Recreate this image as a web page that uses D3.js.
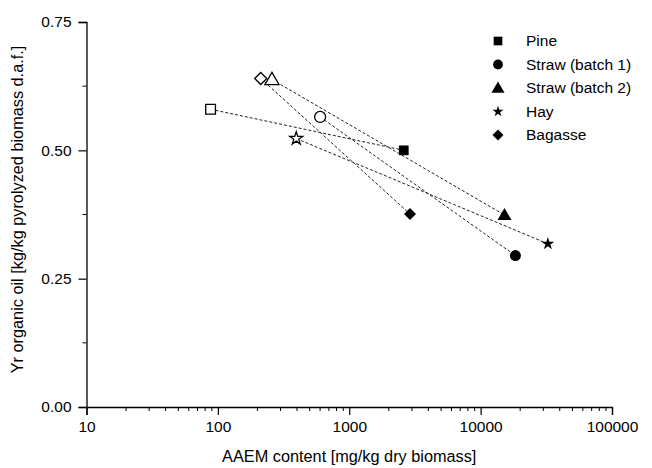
<!DOCTYPE html>
<html>
<head>
<meta charset="utf-8">
<script src="https://cdn.jsdelivr.net/npm/d3@7"></script>
<style>
  body { margin: 0; background: #fff; }
  text { font-family: "Liberation Sans", Arial, sans-serif; fill: #000; }
</style>
</head>
<body>
<div id="chart"></div>
<script>
// data: open marker = first point, filled = second
const seriesNames = ["Pine", "Straw (batch 1)", "Straw (batch 2)", "Hay", "Bagasse"];
const seriesShapes = ["square", "circle", "triangle", "star", "diamond"];
const openAAEM = [88, 600, 258, 395, 212];
const openYield = [0.58, 0.565, 0.638, 0.523, 0.64];
const filledAAEM = [2600, 18400, 15200, 32500, 2900];
const filledYield = [0.50, 0.295, 0.374, 0.318, 0.376];

const xTicks = [10, 100, 1000, 10000, 100000];
const yTicks = [0, 0.25, 0.5, 0.75];

const width = 652, height = 468;
const margin = { top: 22, right: 40, bottom: 61, left: 86.5 };

const svg = d3.select("#chart").append("svg")
    .attr("width", width)
    .attr("height", height);

const x = d3.scaleLog()
    .domain([10, 100000])
    .range([margin.left, width - margin.right]);

const y = d3.scaleLinear()
    .domain([0, 0.75])
    .range([height - margin.bottom, margin.top]);

// minor ticks
let xMinor = [];
for (let d = 10; d < 100000; d *= 10) {
    for (let k = 2; k <= 9; k++) xMinor.push(d * k);
}
let yMinor = [0.125, 0.375, 0.625];

// AXES
const xAxis = svg.append("g")
    .attr("transform", `translate(0,${height - margin.bottom})`)
    .call(d3.axisBottom(x).tickValues(xTicks).tickFormat(d3.format("d")).tickSizeOuter(0).tickSize(8).tickPadding(6));
xAxis.append("g").selectAll("line")
    .data(xMinor).enter().append("line")
    .attr("x1", d => x(d)).attr("x2", d => x(d))
    .attr("y1", 0).attr("y2", 4)
    .attr("stroke", "#000");

const yAxis = svg.append("g")
    .attr("transform", `translate(${margin.left},0)`)
    .call(d3.axisLeft(y).tickValues(yTicks).tickFormat(d3.format(".2f")).tickSizeOuter(0).tickSize(8).tickPadding(7));
yAxis.append("g").selectAll("line")
    .data(yMinor).enter().append("line")
    .attr("y1", d => y(d)).attr("y2", d => y(d))
    .attr("x1", 0).attr("x2", -4)
    .attr("stroke", "#000");

svg.selectAll(".domain").attr("stroke", "#000").attr("stroke-width", 1.3);
svg.selectAll(".tick line").attr("stroke", "#000").attr("stroke-width", 1.2);
svg.selectAll(".tick text")
    .style("font-family", "'Liberation Sans', Arial, sans-serif")
    .style("font-size", "15.5px")
    .attr("fill", "#000");

// axis titles
svg.append("text")
    .attr("x", (margin.left + width - margin.right) / 2)
    .attr("y", 462)
    .attr("text-anchor", "middle")
    .style("font-size", "16.3px")
    .text("AAEM content [mg/kg dry biomass]");

svg.append("text")
    .attr("transform", `translate(23,${(margin.top + height - margin.bottom) / 2 - 5}) rotate(-90)`)
    .attr("text-anchor", "middle")
    .style("font-size", "16.3px")
    .text("Yr organic oil [kg/kg pyrolyzed biomass d.a.f.]");

// marker shapes
const symbolFor = {
    square: d3.symbol().type(d3.symbolSquare).size(95),
    circle: d3.symbol().type(d3.symbolCircle).size(95),
    triangle: d3.symbol().type(d3.symbolTriangle).size(85),
    star: d3.symbol().type(d3.symbolStar).size(52),
    diamond: d3.symbol().type(d3.symbolSquare).size(72)
};
function markerTransform(shape, px, py) {
    let t = `translate(${px},${py})`;
    if (shape === "diamond") t += " rotate(45)";
    if (shape === "triangle") t += " translate(0,1)";
    return t;
}

const series = seriesNames.map((name, i) => ({
    name: name,
    shape: seriesShapes[i],
    open: [openAAEM[i], openYield[i]],
    filled: [filledAAEM[i], filledYield[i]]
}));

// dashed connecting lines
svg.append("g").selectAll("line")
    .data(series).enter().append("line")
    .attr("x1", d => x(d.open[0])).attr("y1", d => y(d.open[1]))
    .attr("x2", d => x(d.filled[0])).attr("y2", d => y(d.filled[1]))
    .attr("stroke", "#222")
    .attr("stroke-width", 1)
    .attr("stroke-dasharray", "3,2");

// open markers
svg.append("g").selectAll("path")
    .data(series).enter().append("path")
    .attr("d", d => symbolFor[d.shape]())
    .attr("transform", d => markerTransform(d.shape, x(d.open[0]), y(d.open[1])))
    .attr("fill", "#fff")
    .attr("stroke", "#000")
    .attr("stroke-width", 1.3);

// filled markers
svg.append("g").selectAll("path")
    .data(series).enter().append("path")
    .attr("d", d => symbolFor[d.shape]())
    .attr("transform", d => markerTransform(d.shape, x(d.filled[0]), y(d.filled[1])))
    .attr("fill", "#000");

// LEGEND
const legend = svg.append("g").attr("transform", "translate(498,41)");
const rows = legend.selectAll("g")
    .data(series).enter().append("g")
    .attr("transform", (d, i) => `translate(0,${i * 23.5})`);
rows.append("path")
    .attr("d", d => d.shape === "star"
        ? d3.symbol().type(d3.symbolStar).size(38)()
        : d3.symbol().type(d.shape === "circle" ? d3.symbolCircle : d.shape === "triangle" ? d3.symbolTriangle : d3.symbolSquare).size(d.shape === "diamond" ? 60 : 75)())
    .attr("transform", d => markerTransform(d.shape, 0, 0))
    .attr("fill", "#000");
rows.append("text")
    .attr("x", 28)
    .attr("dy", "0.35em")
    .style("font-size", "15.5px")
    .text(d => d.name);
</script>
</body>
</html>
